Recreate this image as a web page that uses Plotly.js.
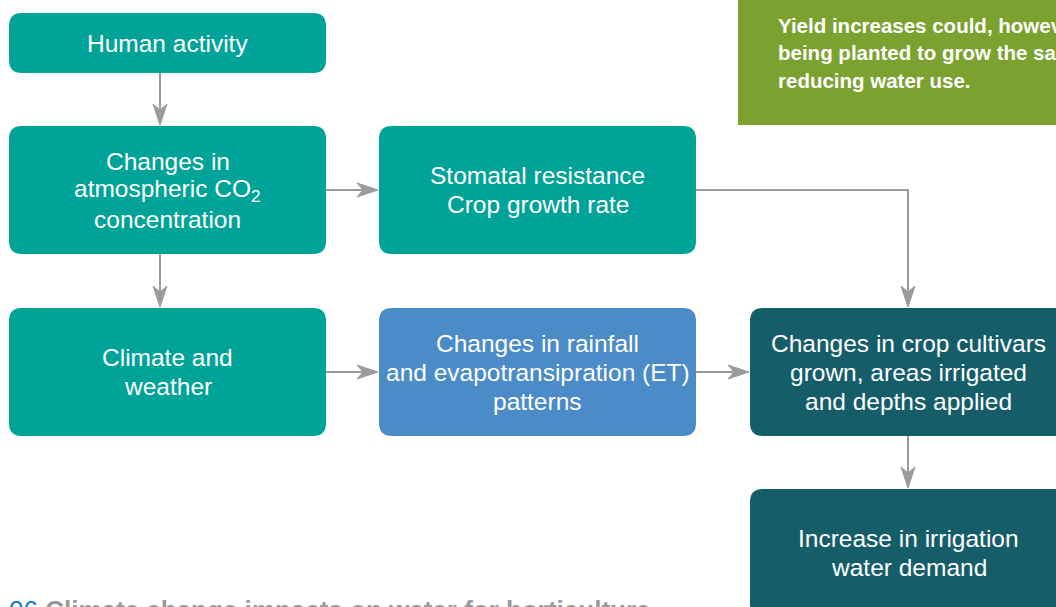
<!DOCTYPE html>
<html>
<head>
<meta charset="utf-8">
<script src="https://cdn.plot.ly/plotly-3.0.1.min.js"></script>
<style>
  html, body { margin: 0; padding: 0; background: #fff; }
  #chart { width: 1056px; height: 607px; }
</style>
</head>
<body>
<div id="chart"></div>
<script>
// box texts, one entry per line
var boxLabels = [
    ['Human activity'],
    ['Changes in', 'atmospheric CO<sub>2</sub>', 'concentration'],
    ['Stomatal resistance', 'Crop growth rate'],
    ['Climate and', 'weather'],
    ['Changes in rainfall', 'and evapotransipration (ET)', 'patterns'],
    ['Changes in crop cultivars', 'grown, areas irrigated', 'and depths applied'],
    ['Increase in irrigation', 'water demand']
];
var noteLines = [
    'Yield increases could, however,',
    'being planted to grow the same',
    'reducing water use.'
];
var pageNumber = '06';
var pageTitle = 'Climate change impacts on water for horticulture';

// layout of the boxes (pixels, y down)
var boxX0 = [9, 9, 379, 9, 379, 750, 750];
var boxX1 = [326, 326, 696, 326, 696, 1067, 1067];
var boxY0 = [13, 126, 126, 308, 308, 308, 489];
var boxY1 = [73, 254, 254, 436, 436, 436, 617];
var boxColor = ['#00a398', '#00a398', '#00a398', '#00a398', '#4a8bc8', '#155e69', '#155e69'];

// connectors: list of points, arrow at the last one
var arrows = [
    [[160, 73], [160, 126]],
    [[326, 190], [379, 190]],
    [[160, 254], [160, 308]],
    [[326, 372], [379, 372]],
    [[696, 372], [750, 372]],
    [[696, 190], [908, 190], [908, 308]],
    [[908, 436], [908, 489]]
];

var FONT = 'Liberation Sans, Arial, Helvetica, sans-serif';
var grey = '#9b9b9e';

function roundRect(x0, y0, x1, y1, r) {
    return 'M' + (x0 + r) + ',' + y0 +
        ' L' + (x1 - r) + ',' + y0 + ' Q' + x1 + ',' + y0 + ' ' + x1 + ',' + (y0 + r) +
        ' L' + x1 + ',' + (y1 - r) + ' Q' + x1 + ',' + y1 + ' ' + (x1 - r) + ',' + y1 +
        ' L' + (x0 + r) + ',' + y1 + ' Q' + x0 + ',' + y1 + ' ' + x0 + ',' + (y1 - r) +
        ' L' + x0 + ',' + (y0 + r) + ' Q' + x0 + ',' + y0 + ' ' + (x0 + r) + ',' + y0 + ' Z';
}

var shapes = [];
var annotations = [];

// green note box (cut by the page edge)
shapes.push({
    type: 'rect', xref: 'x', yref: 'y',
    x0: 738, x1: 1070, y0: -10, y1: 125,
    fillcolor: '#7ba22f', line: {width: 0}, layer: 'below'
});
noteLines.forEach(function (t, i) {
    annotations.push({
        xref: 'x', yref: 'y', x: 776, y: 25 + i * 27.5,
        xanchor: 'left', yanchor: 'middle', showarrow: false,
        text: '<b>' + t + '</b>',
        font: {family: FONT, size: 20.5, color: '#ffffff'}
    });
});

// boxes and their texts
boxLabels.forEach(function (lines, b) {
    shapes.push({
        type: 'path', xref: 'x', yref: 'y',
        path: roundRect(boxX0[b], boxY0[b], boxX1[b], boxY1[b], 13),
        fillcolor: boxColor[b], line: {width: 0}, layer: 'below'
    });
    var cx = (boxX0[b] + boxX1[b]) / 2;
    var cy = (boxY0[b] + boxY1[b]) / 2;
    lines.forEach(function (t, i) {
        annotations.push({
            xref: 'x', yref: 'y', x: cx, y: cy + (i - (lines.length - 1) / 2) * 29,
            xanchor: 'center', yanchor: 'middle', showarrow: false,
            text: t,
            font: {family: FONT, size: 24.5, color: '#ffffff'}
        });
    });
});

// connector lines and arrow heads
arrows.forEach(function (pts) {
    var a = pts[pts.length - 2], e = pts[pts.length - 1];
    var dx = e[0] - a[0], dy = e[1] - a[1];
    var len = Math.sqrt(dx * dx + dy * dy);
    var ux = dx / len, uy = dy / len;
    var tip = [e[0] - ux, e[1] - uy];
    var L = 21, W = 7, N = 15;
    // stop the line inside the head
    var lineEnd = [tip[0] - ux * N, tip[1] - uy * N];
    var p = 'M' + pts[0][0] + ',' + pts[0][1];
    for (var j = 1; j < pts.length - 1; j++) p += ' L' + pts[j][0] + ',' + pts[j][1];
    p += ' L' + lineEnd[0] + ',' + lineEnd[1];
    shapes.push({
        type: 'path', xref: 'x', yref: 'y', path: p,
        line: {color: grey, width: 2}
    });
    var bx = tip[0] - ux * L, by = tip[1] - uy * L;
    var head = 'M' + tip[0] + ',' + tip[1] +
        ' L' + (bx - uy * W) + ',' + (by + ux * W) +
        ' L' + (tip[0] - ux * N) + ',' + (tip[1] - uy * N) +
        ' L' + (bx + uy * W) + ',' + (by - ux * W) + ' Z';
    shapes.push({
        type: 'path', xref: 'x', yref: 'y', path: head,
        fillcolor: grey, line: {color: grey, width: 1}
    });
});

// page footer, cut by the bottom edge
annotations.push({
    xref: 'x', yref: 'y', x: 7, y: 593,
    xanchor: 'left', yanchor: 'top', showarrow: false,
    text: '<span style="color:#0a7dc2">' + pageNumber + '</span> <b>' + pageTitle + '</b>',
    font: {family: FONT, size: 26, color: '#9a9a9c'}
});

var data = [{
    x: [], y: [], type: 'scatter', mode: 'markers', hoverinfo: 'skip', showlegend: false
}];

var layout = {
    width: 1056,
    height: 607,
    margin: {l: 0, r: 0, t: 0, b: 0},
    paper_bgcolor: '#ffffff',
    plot_bgcolor: '#ffffff',
    xaxis: {range: [0, 1056], visible: false, fixedrange: true},
    yaxis: {range: [607, 0], visible: false, fixedrange: true},
    shapes: shapes,
    annotations: annotations,
    showlegend: false
};

var config = {
    staticPlot: true,
    displayModeBar: false
};

Plotly.newPlot('chart', data, layout, config);
</script>
</body>
</html>
